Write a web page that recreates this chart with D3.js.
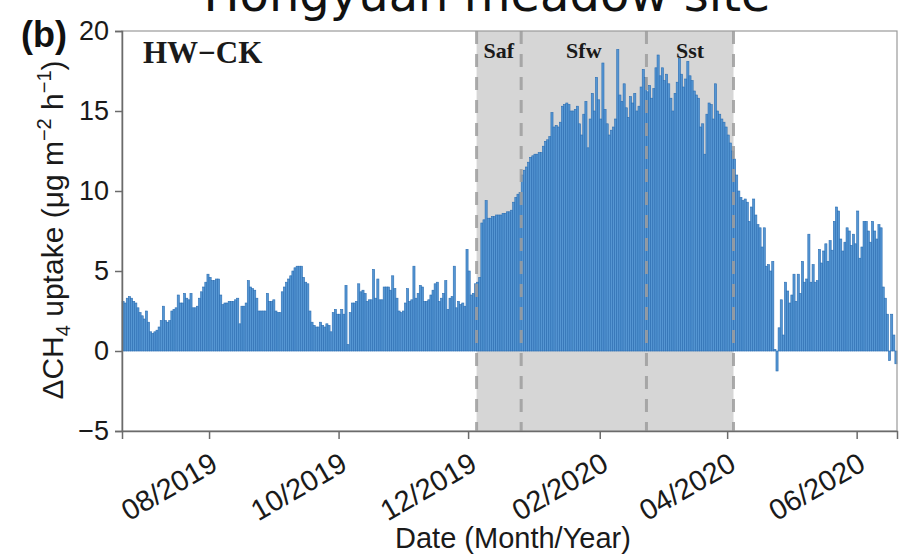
<html><head>
<meta charset="utf-8">
<title>Hongyuan meadow site - HW-CK</title>
<script src="https://d3js.org/d3.v7.min.js"></script>
<style>
  body { margin: 0; background: #fff; }
  .axis text { font-family: "Liberation Sans", Arial, sans-serif; font-size: 27px; fill: #1a1a1a; }
  .x.axis text { font-size: 29px; }
  .axis path, .axis line { stroke: #6b6b6b; stroke-width: 1.5px; }
</style>
</head>
<body>
<svg id="chart" width="900" height="557"></svg>
<script>

// daily delta CH4 uptake (ug m-2 h-1), HW minus CK
const jun2019 = [3.1, 3.0, 3.3, 3.4, 3.3, 3.1, 3.0, 2.7, 2.4, 2.2];
const jul2019 = [2.0, 2.5, 1.8, 1.2, 1.1, 1.2, 1.3, 1.5, 1.9, 2.8, 1.9, 1.8, 1.9, 2.5, 2.6, 2.7,
                 3.5, 3.0, 3.0, 3.6, 3.3, 3.2, 3.6, 2.7, 2.7, 2.8, 3.3, 3.7, 4.0, 4.3, 4.8];
const aug2019 = [4.6, 4.4, 4.4, 4.5, 4.5, 3.5, 2.9, 3.0, 3.0, 3.1, 3.1, 3.1, 3.2, 3.3, 1.7, 2.8,
                 2.8, 3.0, 4.4, 4.0, 3.9, 3.8, 3.3, 2.5, 2.5, 2.5, 2.5, 3.6, 3.1, 3.1, 3.2];
const sep2019 = [2.5, 2.4, 2.4, 3.7, 4.0, 4.3, 4.5, 4.7, 5.0, 5.2, 5.3, 5.3, 5.3, 4.6, 4.3,
                 4.2, 2.5, 1.8, 1.6, 1.5, 1.5, 1.8, 1.6, 1.5, 1.7, 1.6, 1.2, 2.4, 2.6, 2.3];
const oct2019 = [2.3, 2.6, 2.3, 4.1, 0.4, 2.4, 3.0, 3.0, 3.1, 4.2, 3.7, 3.8, 3.6, 3.1, 3.2, 3.2,
                 5.1, 3.3, 4.5, 3.2, 3.2, 4.0, 4.0, 4.0, 3.8, 4.7, 3.9, 3.3, 2.5, 2.4, 2.5];
const nov2019 = [3.0, 3.9, 3.1, 3.2, 5.3, 3.3, 3.6, 4.1, 4.0, 3.1, 3.1, 3.2, 3.5, 3.8, 4.2,
                 4.3, 3.1, 3.3, 3.6, 4.4, 2.6, 3.3, 3.4, 5.3, 2.7, 3.1, 2.9, 3.0, 2.8, 6.35];
const dec2019 = [5.0, 3.5, 3.6, 4.2, 4.3, 4.6, 8.0, 8.2, 9.4, 8.3, 8.3, 8.4, 8.4, 8.5, 8.5, 8.5,
                 8.6, 8.6, 8.7, 8.7, 8.8, 9.3, 9.6, 9.8, 9.9, 11.0, 11.3, 11.5, 11.8, 12.1, 12.2];
const jan2020 = [12.3, 12.3, 12.4, 12.4, 12.8, 13.1, 13.2, 13.4, 14.9, 14.0, 14.1, 14.0, 14.3, 15.3, 15.4, 15.5,
                 15.4, 15.0, 15.0, 15.1, 15.3, 14.2, 13.5, 14.8, 15.6, 12.7, 14.5, 16.1, 15.0, 17.1, 15.7];
const feb2020 = [14.5, 18.0, 15.1, 14.2, 13.5, 13.8, 14.0, 14.5, 18.85, 16.0, 15.6, 16.7, 15.2, 14.6, 15.9,
                 15.5, 16.1, 15.0, 15.3, 16.5, 17.6, 17.1, 16.2, 16.6, 15.8, 16.4, 17.7, 18.5, 17.2];
const mar2020 = [17.7, 16.9, 17.3, 16.7, 15.8, 15.0, 16.1, 16.8, 18.3, 17.3, 16.5, 17.0, 18.1, 17.2, 16.9, 16.25,
                 16.0, 15.8, 14.0, 14.2, 12.3, 14.8, 15.5, 15.4, 14.5, 16.7, 15.0, 14.8, 14.5, 14.3, 14.0];
const apr2020 = [13.5, 13.0, 12.5, 12.0, 11.0, 10.0, 9.6, 9.4, 9.5, 9.3, 8.1, 9.0, 9.5, 8.5, 7.9,
                 7.7, 6.5, 7.7, 5.3, 5.4, 5.0, 5.6, 0.1, -1.25, 1.45, 3.2, 1.0, 4.3, 3.75, 3.0];
const may2020 = [3.5, 4.8, 3.1, 4.8, 3.6, 5.6, 4.3, 4.5, 7.3, 4.3, 5.4, 4.3, 4.4, 6.35, 5.5, 6.25,
                 6.7, 5.6, 6.9, 6.3, 8.1, 9.0, 8.75, 7.0, 6.25, 6.8, 7.7, 7.5, 6.6, 7.3, 6.7];
const jun2020 = [8.75, 5.8, 6.5, 8.1, 8.1, 7.5, 6.8, 8.1, 7.5, 7.0, 7.9, 7.7, 4.0, 3.3, 2.3, -0.6, 2.3, 1.0, -0.8];

const firstDay = "2019-06-21";
const lastDay = "2020-06-20";

// season boundaries (Saf, Sfw, Sst)
const seasonBreaks = ["2019-12-05", "2019-12-26", "2020-02-23", "2020-04-04"];
const seasonNames = ["Saf", "Sfw", "Sst"];

const xTickDates = ["2019-08-01", "2019-10-01", "2019-12-01", "2020-02-01", "2020-04-01", "2020-06-01"];
const yTicks = [-5, 0, 5, 10, 15, 20];

const parseDay = d3.utcParse("%Y-%m-%d");

const values = [].concat(jun2019, jul2019, aug2019, sep2019, oct2019, nov2019, dec2019,
                         jan2020, feb2020, mar2020, apr2020, may2020, jun2020);
const startDate = parseDay(firstDay);
const days = values.map((v, i) => ({ date: d3.utcDay.offset(startDate, i), value: v }));

const svg = d3.select("svg#chart");
const margins = { top: 31, right: 3, bottom: 126, left: 122 };
const width = +svg.attr("width");
const height = +svg.attr("height");
const chartWidth = width - margins.left - margins.right;
const chartHeight = height - margins.top - margins.bottom;

const xScale = d3.scaleUtc()
  .domain([startDate, parseDay(lastDay)])
  .range([margins.left, margins.left + chartWidth]);
const yScale = d3.scaleLinear()
  .domain([-5, 20])
  .range([margins.top + chartHeight, margins.top]);

// title, clipped at the top edge like the figure
svg.append("text")
  .attr("x", 487).attr("y", 11)
  .attr("text-anchor", "middle")
  .style("font-family", "DejaVu Sans, sans-serif")
  .style("font-size", "48px")
  .attr("fill", "#111")
  .text("Hongyuan meadow site");

// shaded freeze-thaw period
svg.append("rect")
  .attr("x", xScale(parseDay(seasonBreaks[0])))
  .attr("y", margins.top)
  .attr("width", xScale(parseDay(seasonBreaks[3])) - xScale(parseDay(seasonBreaks[0])))
  .attr("height", chartHeight)
  .attr("fill", "#d6d6d6");

// bars
svg.append("g")
  .selectAll("rect")
  .data(days)
  .join("rect")
  .attr("x", d => xScale(d.date))
  .attr("width", d => xScale(d3.utcDay.offset(d.date, 1)) - xScale(d.date))
  .attr("y", d => yScale(Math.max(0, d.value)))
  .attr("height", d => Math.abs(yScale(d.value) - yScale(0)))
  .attr("fill", "#5596d3")
  .attr("stroke", "#2a6db2")
  .attr("stroke-width", 0.6);

// dashed season lines
svg.append("g")
  .selectAll("line")
  .data(seasonBreaks)
  .join("line")
  .attr("x1", d => xScale(parseDay(d)))
  .attr("x2", d => xScale(parseDay(d)))
  .attr("y1", margins.top)
  .attr("y2", margins.top + chartHeight)
  .attr("stroke", "#9e9e9e")
  .attr("stroke-width", 3)
  .attr("stroke-dasharray", "13,10")
  .attr("opacity", 0.85);

// season labels
svg.append("g")
  .selectAll("text")
  .data(seasonNames)
  .join("text")
  .attr("x", (d, i) => (xScale(parseDay(seasonBreaks[i])) + xScale(parseDay(seasonBreaks[i + 1]))) / 2)
  .attr("y", 58)
  .attr("text-anchor", "middle")
  .style("font-family", "Liberation Serif, Times New Roman, serif")
  .style("font-weight", "bold")
  .style("font-size", "22px")
  .attr("fill", "#1a1a1a")
  .text(d => d);

// panel frame
svg.append("rect")
  .attr("x", margins.left).attr("y", margins.top)
  .attr("width", chartWidth).attr("height", chartHeight)
  .attr("fill", "none")
  .attr("stroke", "#9a9a9a")
  .attr("stroke-width", 1.2);

// axes
let leftAxis = d3.axisLeft(yScale).tickValues(yTicks).tickSize(7).tickPadding(6);
svg.append("g")
  .attr("class", "y axis")
  .attr("transform", "translate(" + margins.left + ",0)")
  .call(leftAxis);

let bottomAxis = d3.axisBottom(xScale)
  .tickValues(xTickDates.map(parseDay))
  .tickFormat(d3.utcFormat("%m/%Y"))
  .tickSize(8);
let xAxisG = svg.append("g")
  .attr("class", "x axis")
  .attr("transform", "translate(0," + (margins.top + chartHeight) + ")")
  .call(bottomAxis);
xAxisG.selectAll(".tick text")
  .attr("text-anchor", "end")
  .attr("y", 0).attr("dy", 0)
  .attr("transform", "translate(10,38) rotate(-30)");

// panel tag and treatment label
svg.append("text")
  .attr("x", 21).attr("y", 47)
  .style("font-family", "Liberation Sans, Arial, sans-serif")
  .style("font-weight", "bold")
  .style("font-size", "36px")
  .attr("fill", "#111")
  .text("(b)");

svg.append("text")
  .attr("x", 143).attr("y", 63)
  .style("font-family", "Liberation Serif, Times New Roman, serif")
  .style("font-weight", "bold")
  .style("font-size", "31px")
  .attr("fill", "#1a1a1a")
  .text("HW\u2212CK");

// axis titles
svg.append("text")
  .attr("x", 513).attr("y", 548)
  .attr("text-anchor", "middle")
  .style("font-family", "Liberation Sans, Arial, sans-serif")
  .style("font-size", "29px")
  .attr("fill", "#1a1a1a")
  .text("Date (Month/Year)");

let yTitle = svg.append("text")
  .attr("transform", "translate(63,230) rotate(-90)")
  .attr("text-anchor", "middle")
  .style("font-family", "Liberation Sans, Arial, sans-serif")
  .style("font-size", "30px")
  .attr("fill", "#1a1a1a");
yTitle.append("tspan").text("\u0394CH");
yTitle.append("tspan").attr("dy", 7).style("font-size", "20px").text("4");
yTitle.append("tspan").attr("dy", -7).text(" uptake (\u03bcg m");
yTitle.append("tspan").attr("dy", -12).style("font-size", "20px").text("\u22122");
yTitle.append("tspan").attr("dy", 12).text(" h");
yTitle.append("tspan").attr("dy", -12).style("font-size", "20px").text("\u22121");
yTitle.append("tspan").attr("dy", 12).text(")");

</script>
</body></html>
